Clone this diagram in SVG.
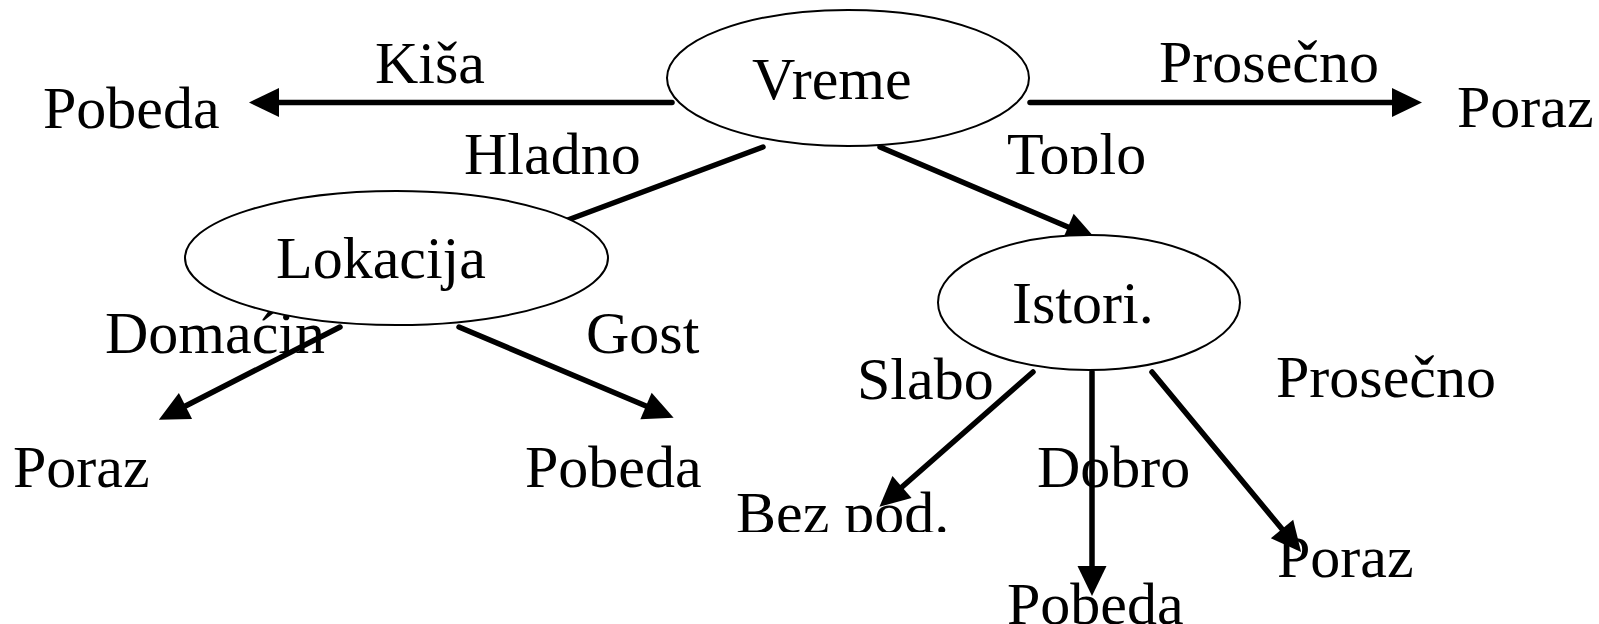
<svg xmlns="http://www.w3.org/2000/svg" width="1599" height="624" viewBox="0 0 1599 624">
  <style>
    text { font-family: "Liberation Serif", "Times New Roman", serif; font-size: 60px; fill: #000; }
    .conn { fill: none; stroke: #000; stroke-width: 5.5; stroke-linecap: round; }
    .node { fill: #fff; stroke: #000; stroke-width: 2; }
  </style>
  <defs>
    <marker id="ah" markerUnits="userSpaceOnUse" markerWidth="40" markerHeight="40" viewBox="0 -20 40 40" refX="0" refY="0" orient="auto" overflow="visible">
      <path d="M0,-14.5 L30,0 L0,14.5 z" fill="#000"/>
    </marker>
    <clipPath id="clipTop"><rect x="0" y="0" width="1599" height="174"/></clipPath>
    <clipPath id="clipBez"><rect x="0" y="0" width="1599" height="532"/></clipPath>
  </defs>
  <rect width="1599" height="624" fill="#fff"/>

  <g id="connectors">
    <path class="conn" d="M672,102.5 L279,102.5" marker-end="url(#ah)"/>
    <path class="conn" d="M1030,102.5 L1392,102.5" marker-end="url(#ah)"/>
    <path class="conn" d="M763,147 L565,221"/>
    <path class="conn" d="M880,147 L1068,227" marker-end="url(#ah)"/>
    <path class="conn" d="M340,327 L185.5,406" marker-end="url(#ah)"/>
    <path class="conn" d="M459,327 L646,406" marker-end="url(#ah)"/>
    <path class="conn" d="M1033,372 L902,487" marker-end="url(#ah)"/>
    <path class="conn" d="M1092,372 L1092,566" marker-end="url(#ah)"/>
    <path class="conn" d="M1152,372 L1282,529" marker-end="url(#ah)"/>
  </g>

  <g id="edge-labels">
    <text x="375" y="83">Kiša</text>
    <text x="1159" y="82">Prosečno</text>
    <text x="464" y="174" clip-path="url(#clipTop)">Hladno</text>
    <text x="1007" y="173.5" clip-path="url(#clipTop)">Toplo</text>
    <text x="105" y="353">Domaćin</text>
    <text x="586" y="353">Gost</text>
    <text x="857" y="399">Slabo</text>
    <text x="1037" y="487">Dobro</text>
    <text x="1276" y="397">Prosečno</text>
  </g>

  <g id="node-vreme">
    <ellipse class="node" cx="848" cy="78" rx="181" ry="68"/>
    <text x="752" y="99">Vreme</text>
  </g>
  <g id="node-lokacija">
    <ellipse class="node" cx="396.5" cy="258" rx="211.5" ry="67"/>
    <text x="276" y="278">Lokacija</text>
  </g>
  <g id="node-istori">
    <ellipse class="node" cx="1089" cy="302.5" rx="151" ry="67.5"/>
    <text x="1012" y="323">Istori.</text>
  </g>
  <g id="leaf-pobeda-1"><text x="43" y="128">Pobeda</text></g>
  <g id="leaf-poraz-1"><text x="1457" y="127">Poraz</text></g>
  <g id="leaf-poraz-2"><text x="13" y="487">Poraz</text></g>
  <g id="leaf-pobeda-2"><text x="525" y="487">Pobeda</text></g>
  <g id="leaf-bezpod"><text x="736" y="533" clip-path="url(#clipBez)">Bez pod.</text></g>
  <g id="leaf-pobeda-3"><text x="1007" y="624">Pobeda</text></g>
  <g id="leaf-poraz-3"><text x="1277" y="577">Poraz</text></g>
</svg>
